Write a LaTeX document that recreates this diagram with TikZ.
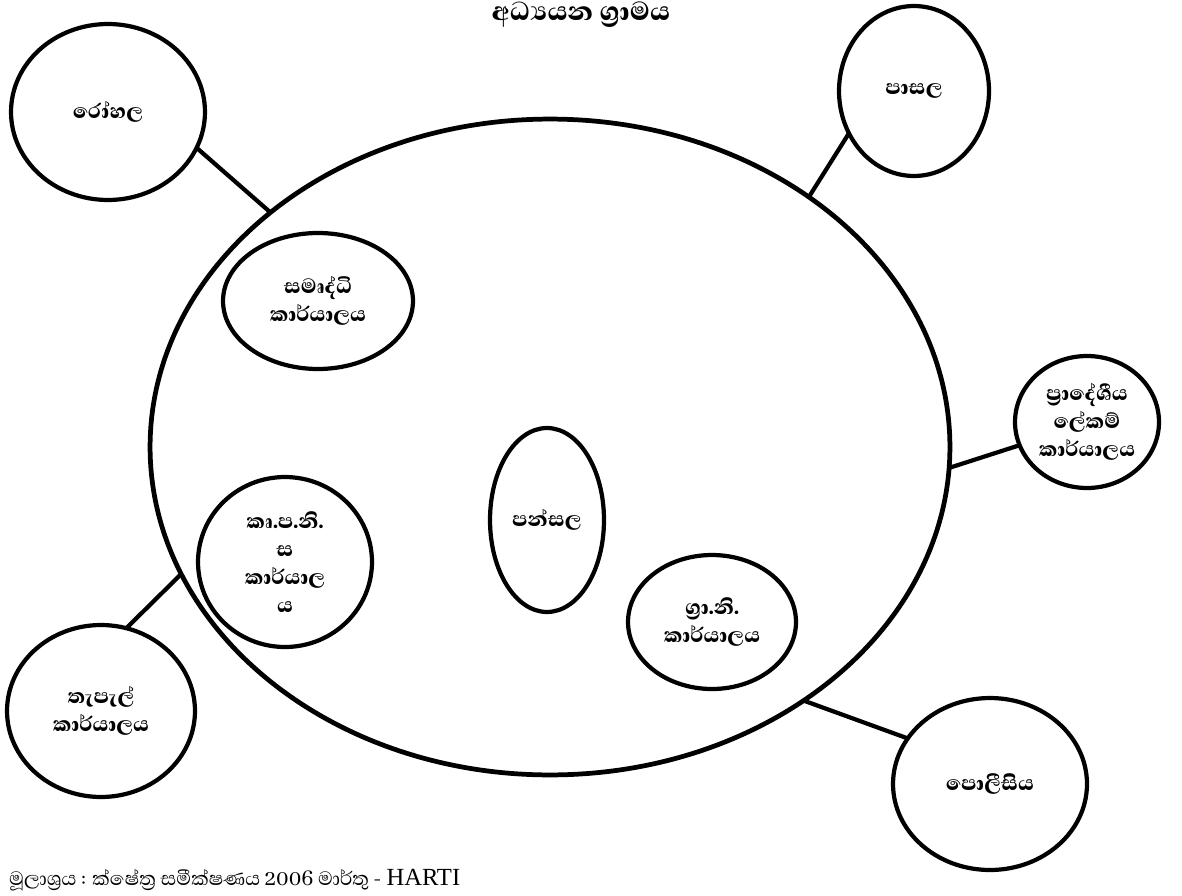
\documentclass[tikz,border=0pt]{standalone}
\usepackage{fontspec}
\newfontfamily\sinhala[Script=Sinhala, BoldFont={Abhaya Libre ExtraBold}]{Abhaya Libre}
\newfontfamily\timesfont{Liberation Serif}
\usetikzlibrary{shapes.geometric}
\tikzset{
  % one ring of the diagram, #1 = width, #2 = height
  place/.style 2 args={ellipse, draw, line width=2.4pt, inner sep=0pt, outer sep=0pt,
    minimum width=#1, minimum height=#2, align=center,
    font=\sinhala\bfseries\fontsize{15}{16}\selectfont},
  link/.style={line width=2.4pt}
}

\begin{document}
\begin{tikzpicture}[x=0.02cm, y=-0.02cm]
  \useasboundingbox (0,0) rectangle (1182,895);

  \node [font=\sinhala\bfseries\fontsize{19}{20}\selectfont, anchor=north, inner sep=1pt] (title) at (581,0) {අධ්‍යයන ග්‍රාමය};

  \node [place={16cm}{13.12cm}, line width=2.7pt] (village) at (550,447) {};

  \node [place={3.88cm}{3.52cm}] (rohala) at (108,112) {රෝහල};
  \node [place={3cm}{3.4cm}] (pasala) at (914,91) {පාසල};
  \node [place={3.8cm}{2.72cm}] (samurdhi) at (318,301) {සමෘද්ධි\\කාර්යාලය};
  \node [place={2.88cm}{2.64cm}] (pradeshiya) at (1087,422) {ප්‍රාදේශීය\\ලේකම්\\කාර්යාලය};
  \node [place={2.28cm}{3.68cm}] (pansala) at (547,520) {පන්සල};
  \node [place={3.48cm}{3.4cm}] (kpns) at (285,562) {කෘ.ප.නි.\\ස\\කාර්යාල\\ය};
  \node [place={3.36cm}{2.68cm}] (grani) at (712,622) {ග්‍රා.නි.\\කාර්යාලය};
  \node [place={3.76cm}{3.44cm}] (tapal) at (101,711) {තැපැල්\\කාර්යාලය};
  \node [place={3.88cm}{3.44cm}] (polisiya) at (990,784) {පොලීසිය};

  \draw [link] (village.140) -- (rohala.-22);
  \draw [link] (village.44) -- (pasala.213);
  \draw [link] (village.-3) -- (pradeshiya.199);
  \draw [link] (village.-45) -- (polisiya.151);
  \draw [link] (village.199) -- (tapal.73);

  \node [font=\sinhala\fontsize{14}{16}\selectfont, anchor=west] (source) at (3,880)
    {මූලාශ්‍රය : ක්ෂේත්‍ර සමීක්ෂණය 2006 මාර්තු - {\timesfont HARTI}};
\end{tikzpicture}
\end{document}
